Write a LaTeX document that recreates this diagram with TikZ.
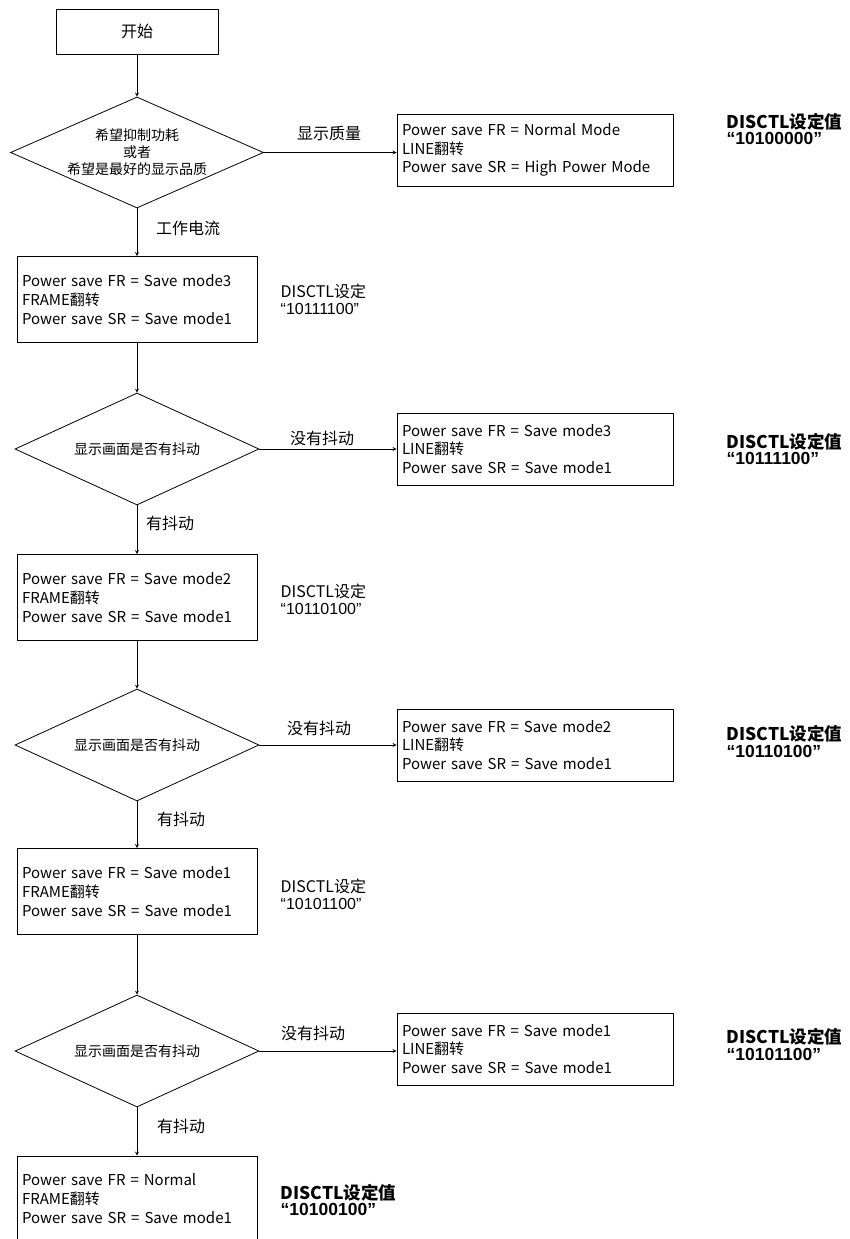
\documentclass[tikz,border=0pt]{standalone}
\usepackage{fontspec}
\setmainfont{Noto Sans CJK SC}
\newfontfamily\numfont{Liberation Sans}
\usetikzlibrary{shapes.geometric,arrows}

\begin{document}
\begin{tikzpicture}[x=1pt,y=-1pt,
      >=stealth,line width=0.8pt,
      box/.style={draw,rectangle,minimum width=240pt,minimum height=86pt,
        text width=230pt,align=left,inner sep=5pt,font=\fontsize{15}{19}\selectfont},
      rbox/.style={draw,rectangle,minimum width=276pt,minimum height=72pt,
        text width=266pt,align=left,inner sep=5pt,font=\fontsize{15}{18.5}\selectfont},
      decide/.style={draw,diamond,shape aspect=2.2,minimum width=244pt,minimum height=112pt,
        inner sep=0pt,align=center,font=\fontsize{14}{17}\selectfont},
      lbl/.style={font=\fontsize{16}{18}\selectfont},
      regval/.style={anchor=west,align=left,font=\fontsize{16}{17}\selectfont},
      regbold/.style={anchor=west,align=left,font=\fontsize{17.5}{16.5}\selectfont\bfseries}]
      \useasboundingbox (0,0) rectangle (849,1239);
      \clip (0,0) rectangle (849,1239);
      % start and first choice
      \node[draw,minimum width=162pt,minimum height=45pt,
        font=\fontsize{16}{18}\selectfont] (start) at (137,31.5) {开始};
      \node[decide,shape aspect=2.28,minimum width=253pt,minimum height=111pt] (q1) at (137,152.5)
        {希望抑制功耗\\或者\\希望是最好的显示品质};
      \node[rbox] (r1) at (535,150) {Power save FR = Normal Mode\\LINE翻转\\Power save SR = High Power Mode};
      \node[regbold] (rv1) at (723,129) {DISCTL设定值\\{\numfont “10100000”}};
      \node[lbl] (l1) at (329,133) {显示质量};
      \node[lbl] (l2) at (188,228) {工作电流};
      % save mode3
      \node[box] (m1) at (137,299.5) {Power save FR = Save mode3\\FRAME翻转\\Power save SR = Save mode1};
      \node[regval] (v1) at (277,299.5) {DISCTL设定\\{\numfont “10111100”}};
      \node[decide] (q2) at (137,449) {显示画面是否有抖动};
      \node[rbox] (r2) at (535,449) {Power save FR = Save mode3\\LINE翻转\\Power save SR = Save mode1};
      \node[regbold] (rv2) at (723,449) {DISCTL设定值\\{\numfont “10111100”}};
      \node[lbl] (l3) at (322,438) {没有抖动};
      \node[lbl] (l4) at (170,523) {有抖动};
      % save mode2
      \node[box] (m2) at (137,597.5) {Power save FR = Save mode2\\FRAME翻转\\Power save SR = Save mode1};
      \node[regval] (v2) at (277,599.5) {DISCTL设定\\{\numfont “10110100”}};
      \node[decide] (q3) at (137,745) {显示画面是否有抖动};
      \node[rbox] (r3) at (535,745) {Power save FR = Save mode2\\LINE翻转\\Power save SR = Save mode1};
      \node[regbold] (rv3) at (723,741.5) {DISCTL设定值\\{\numfont “10110100”}};
      \node[lbl] (l5) at (319,728) {没有抖动};
      \node[lbl] (l6) at (181,819) {有抖动};
      % save mode1
      \node[box] (m3) at (137,891.5) {Power save FR = Save mode1\\FRAME翻转\\Power save SR = Save mode1};
      \node[regval] (v3) at (277,894.5) {DISCTL设定\\{\numfont “10101100”}};
      \node[decide] (q4) at (137,1051) {显示画面是否有抖动};
      \node[rbox] (r4) at (535,1049) {Power save FR = Save mode1\\LINE翻转\\Power save SR = Save mode1};
      \node[regbold] (rv4) at (723,1044.5) {DISCTL设定值\\{\numfont “10101100”}};
      \node[lbl] (l7) at (313,1033) {没有抖动};
      \node[lbl] (l8) at (181,1126) {有抖动};
      % normal
      \node[box] (m4) at (137,1199) {Power save FR = Normal\\FRAME翻转\\Power save SR = Save mode1};
      \node[regbold] (v4) at (277,1200) {DISCTL设定值\\{\numfont “10100100”}};
      % connectors
      \draw[->] (start) -- (q1);
      \draw[->] (q1) -- (m1);
      \draw[->] (m1) -- (q2);
      \draw[->] (q2) -- (m2);
      \draw[->] (m2) -- (q3);
      \draw[->] (q3) -- (m3);
      \draw[->] (m3) -- (q4);
      \draw[->] (q4) -- (m4);
      \draw[->] (q1.east) -- (q1.east -| r1.west);
      \draw[->] (q2.east) -- (q2.east -| r2.west);
      \draw[->] (q3.east) -- (q3.east -| r3.west);
      \draw[->] (q4.east) -- (q4.east -| r4.west);
    \end{tikzpicture}
\end{document}
